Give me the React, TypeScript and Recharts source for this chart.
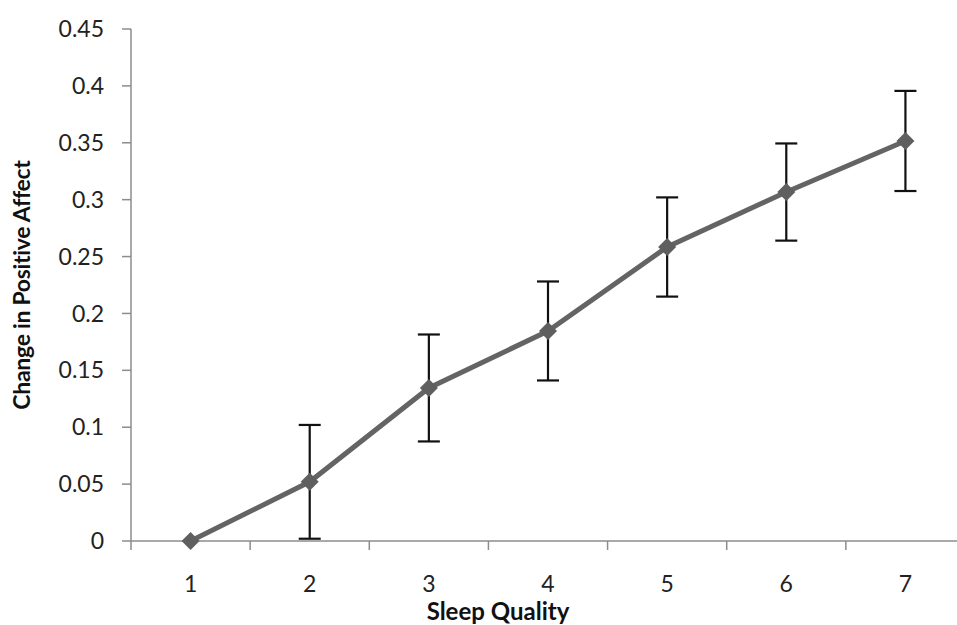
import { LineChart, Line, XAxis, YAxis, ErrorBar } from 'recharts';

// Sleep quality rating (x) vs change in positive affect (y), with error bars
const sleepQuality = [1, 2, 3, 4, 5, 6, 7];
const affectChange = [0, 0.052, 0.1345, 0.1846, 0.2584, 0.3067, 0.3516];
const affectError = [null, 0.05, 0.047, 0.0435, 0.0436, 0.0427, 0.044];

const yTicks = [0, 0.05, 0.1, 0.15, 0.2, 0.25, 0.3, 0.35, 0.4, 0.45];
// category boundaries get tick marks, category centres get labels
const xTicks = [0.5, 1, 1.5, 2, 2.5, 3, 3.5, 4, 4.5, 5, 5.5, 6, 6.5, 7, 7.5];

const data = sleepQuality.map((q, i) => ({
  quality: q,
  affect: affectChange[i],
  err: affectError[i],
}));

const FONT = 'Lato, "Open Sans", sans-serif';
const AXIS = '#8c8c8c';

function XTick(props: any) {
  const { x, y, payload } = props;
  const v = payload.value;
  if (Number.isInteger(v)) {
    return (
      <text x={x} y={y + 51} textAnchor="middle" fontFamily={FONT} fontSize={23} fill="#222">
        {v}
      </text>
    );
  }
  return <line x1={x} y1={y} x2={x} y2={y + 9} stroke={AXIS} strokeWidth={1.5} />;
}

function Diamond(props: any) {
  const { cx, cy } = props;
  if (cx == null || cy == null) return null;
  const r = 9;
  return (
    <path
      d={`M${cx},${cy - r} L${cx + r},${cy} L${cx},${cy + r} L${cx - r},${cy} Z`}
      fill="#5f5f5f"
    />
  );
}

export default function App() {
  return (
    <div style={{ position: 'absolute', left: 0, top: 0, width: 957, height: 625, background: '#fff' }}>
      <LineChart width={957} height={625} data={data} margin={{ top: 29, right: -8, left: 0, bottom: 24 }}>
        <XAxis
          dataKey="quality"
          type="number"
          domain={[0.5, 7.5]}
          ticks={xTicks}
          interval={0}
          tick={<XTick />}
          tickLine={false}
          tickSize={0}
          tickMargin={0}
          axisLine={{ stroke: AXIS, strokeWidth: 1.5 }}
          height={60}
          label={{
            content: (p: any) => (
              <text
                x={498}
                y={p.viewBox.y + 79}
                textAnchor="middle"
                fontFamily={FONT}
                fontWeight="bold"
                fontSize={24}
                fill="#111"
              >
                Sleep Quality
              </text>
            ),
          }}
        />
        <YAxis
          domain={[0, 0.45]}
          ticks={yTicks}
          interval={0}
          width={131}
          tickSize={9}
          tickMargin={18}
          tickLine={{ stroke: AXIS, strokeWidth: 1.5 }}
          axisLine={{ stroke: AXIS, strokeWidth: 1.5 }}
          tick={{ fontFamily: FONT, fontSize: 23, fill: '#222' }}
          label={{
            content: (p: any) => {
              const cx = p.viewBox.x + 30;
              const cy = p.viewBox.y + p.viewBox.height / 2;
              return (
                <text
                  x={cx}
                  y={cy}
                  transform={`rotate(-90, ${cx}, ${cy})`}
                  textAnchor="middle"
                  fontFamily={FONT}
                  fontWeight="bold"
                  fontSize={23}
                  letterSpacing={-0.3}
                  fill="#111"
                >
                  Change in Positive Affect
                </text>
              );
            },
          }}
        />
        <Line
          dataKey="affect"
          stroke="#646464"
          strokeWidth={5}
          dot={<Diamond />}
          activeDot={false}
          isAnimationActive={false}
        >
          <ErrorBar dataKey="err" width={11} strokeWidth={2.2} stroke="#111" direction="y" isAnimationActive={false} />
        </Line>
      </LineChart>
    </div>
  );
}
